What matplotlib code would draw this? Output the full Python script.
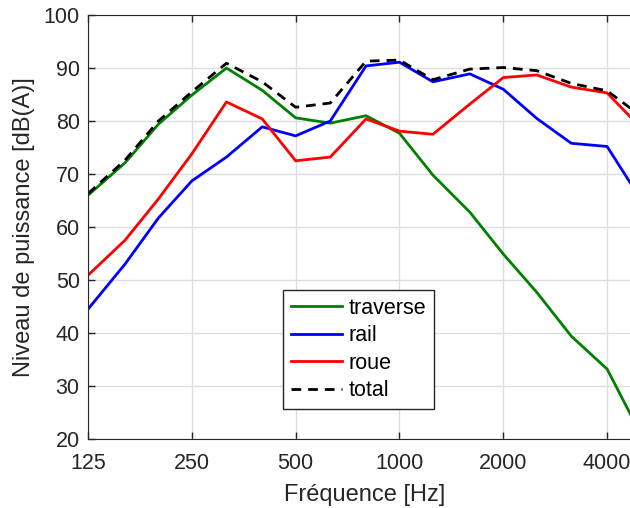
import numpy as np
import matplotlib.pyplot as plt

plt.rcParams['font.family'] = ['Liberation Sans', 'DejaVu Sans']

freqs = [125, 160, 200, 250, 315, 400, 500, 630, 800, 1000,
         1250, 1600, 2000, 2500, 3150, 4000, 5000]
traverse = [66.0, 72.1, 79.4, 84.9, 90.0, 85.8, 80.6, 79.6, 81.0, 77.7,
            69.8, 62.8, 54.9, 47.7, 39.4, 33.2, 21.0]
rail = [44.5, 53.0, 61.7, 68.7, 73.2, 78.9, 77.2, 80.0, 90.4, 91.1,
        87.4, 88.9, 86.0, 80.5, 75.8, 75.2, 65.3]
roue = [50.9, 57.5, 65.3, 73.8, 83.6, 80.4, 72.5, 73.2, 80.4, 78.1,
        77.5, 83.2, 88.2, 88.7, 86.4, 85.3, 78.8]
total = [66.3, 72.6, 80.0, 85.5, 90.9, 87.4, 82.6, 83.4, 91.3, 91.5,
         87.8, 89.8, 90.1, 89.5, 87.1, 85.7, 81.0]
xticks = [125, 250, 500, 1000, 2000, 4000]

txt = '#262626'
fig = plt.figure(figsize=(6.3, 5.08), dpi=100)
ax = fig.add_axes([0.1397, 0.1358, 0.877, 0.8346])

ax.plot(freqs, traverse, color=(0, 0.5, 0), lw=2, label='traverse')
ax.plot(freqs, rail, color='blue', lw=2, label='rail')
ax.plot(freqs, roue, color='red', lw=2, label='roue')
ax.plot(freqs, total, color='black', lw=2, ls=(0, (3.5, 2.5)), label='total')

ax.set_xscale('log')
ax.set_xlim(125, 5000)
ax.set_ylim(20, 100)
ax.set_xticks(xticks)
ax.set_xticklabels([str(t) for t in xticks])
ax.minorticks_off()
ax.set_yticks(np.arange(20, 101, 10))
ax.grid(True, color='#dedede', lw=1)
ax.tick_params(direction='in', top=True, right=True, labelsize=15.5,
               colors=txt, length=5, width=1)
ax.tick_params(axis='x', pad=10)
ax.tick_params(axis='y', pad=6)
for s in ax.spines.values():
    s.set_color(txt)
ax.set_xlabel('Fréquence [Hz]', fontsize=17, color=txt, labelpad=7)
ax.set_ylabel('Niveau de puissance [dB(A)]', fontsize=17, color=txt, labelpad=6)

leg = ax.legend(loc='lower left', bbox_to_anchor=(0.353, 0.071), borderaxespad=0,
                fontsize=15.5, fancybox=False, framealpha=1, edgecolor=txt,
                handlelength=2.4, handletextpad=0.3, labelspacing=0.3,
                borderpad=0.35)
leg.get_frame().set_linewidth(1)

fig.savefig('out.png', dpi=100)
